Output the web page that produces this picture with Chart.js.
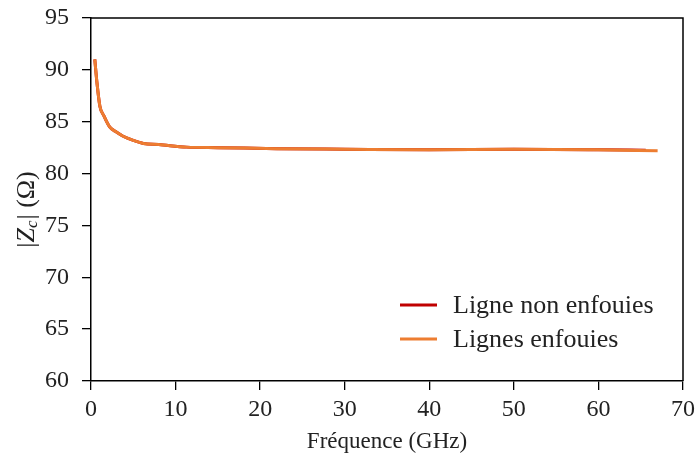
<!DOCTYPE html>
<html>
<head>
<meta charset="utf-8">
<script src="https://cdn.jsdelivr.net/npm/chart.js@4.4.1/dist/chart.umd.min.js"></script>
<style>
    body { margin: 0; background: #fff; }
    canvas { display: block; }
</style>
</head>
<body>
<canvas id="myChart" width="695" height="456"></canvas>
<script>
// fréquences (GHz) et |Zc| (Ohm)
const freqNonEnfouies = [0.45, 0.7, 1.05, 1.5, 2.2, 3, 3.8, 5, 6.2, 8, 11.3, 15, 22, 30, 40, 50, 60, 65.6];
const zcNonEnfouies = [91.0, 88.8, 86.5, 85.6, 84.5, 84.0, 83.6, 83.2, 82.9, 82.8, 82.55, 82.5, 82.4, 82.35, 82.3, 82.35, 82.3, 82.25];
const freqEnfouies = [0.45, 0.7, 1.05, 1.5, 2.2, 3, 3.8, 5, 6.2, 8, 11.3, 15, 22, 30, 40, 50, 60, 67];
const zcEnfouies = [91.0, 88.8, 86.5, 85.6, 84.5, 84.0, 83.6, 83.2, 82.9, 82.8, 82.55, 82.5, 82.4, 82.35, 82.3, 82.35, 82.3, 82.2];
const seriesLabels = ['Ligne non enfouies', 'Lignes enfouies'];
const seriesColors = ['#c00000', '#ed7d31'];
const xTicks = [0, 10, 20, 30, 40, 50, 60, 70];
const yTicks = [60, 65, 70, 75, 80, 85, 90, 95];

const serif = "'Liberation Serif', 'Times New Roman', serif";

function toPoints(xs, ys) {
    return xs.map((x, i) => ({ x: x, y: ys[i] }));
}

const extras = {
    id: 'extras',
    afterDraw(chart) {
        const ctx = chart.ctx;
        const a = chart.chartArea;
        ctx.save();
        // cadre (haut + droite)
        ctx.strokeStyle = '#000';
        ctx.lineWidth = 1.5;
        ctx.beginPath();
        ctx.moveTo(a.left, a.top);
        ctx.lineTo(a.right, a.top);
        ctx.lineTo(a.right, a.bottom);
        ctx.stroke();

        // titre axe Y : |Zc| (Ω)
        ctx.fillStyle = '#222';
        ctx.textBaseline = 'middle';
        ctx.translate(27, 210);
        ctx.rotate(-Math.PI / 2);
        const parts = [
            { t: '|', f: '26px ' + serif, dy: 0 },
            { t: 'Z', f: 'italic 26px ' + serif, dy: 0 },
            { t: 'c', f: 'italic 17px ' + serif, dy: 6 },
            { t: '| (Ω)', f: '26px ' + serif, dy: 0 }
        ];
        let total = 0;
        parts.forEach(p => { ctx.font = p.f; p.w = ctx.measureText(p.t).width; total += p.w; });
        let px = -total / 2;
        parts.forEach(p => {
            ctx.font = p.f;
            ctx.fillText(p.t, px, p.dy);
            px += p.w + (p.t === 'c' ? 1 : 0);
        });
        ctx.restore();

        // légende
        ctx.save();
        ctx.font = '26px ' + serif;
        ctx.textBaseline = 'middle';
        ctx.fillStyle = '#222';
        ctx.lineWidth = 3;
        seriesLabels.forEach((lab, i) => {
            const y = 305 + i * 34;
            ctx.strokeStyle = seriesColors[i];
            ctx.beginPath();
            ctx.moveTo(400, y);
            ctx.lineTo(437, y);
            ctx.stroke();
            ctx.fillText(lab, 453, y + 1);
        });
        ctx.restore();
    }
};

const config = {
    type: 'line',
    data: {
        datasets: [{
            label: seriesLabels[0],
            data: toPoints(freqNonEnfouies, zcNonEnfouies),
            borderColor: seriesColors[0],
            backgroundColor: 'transparent',
            borderWidth: 3,
            pointRadius: 0,
            cubicInterpolationMode: 'monotone',
            order: 2
        }, {
            label: seriesLabels[1],
            data: toPoints(freqEnfouies, zcEnfouies),
            borderColor: seriesColors[1],
            backgroundColor: 'transparent',
            borderWidth: 3,
            pointRadius: 0,
            cubicInterpolationMode: 'monotone',
            order: 1
        }]
    },
    options: {
        responsive: false,
        animation: false,
        layout: { padding: { top: 18, right: 12, left: 0, bottom: 0 } },
        plugins: {
            legend: { display: false },
            tooltip: { enabled: false }
        },
        scales: {
            x: {
                type: 'linear',
                min: 0,
                max: 70,
                afterBuildTicks: (scale) => { scale.ticks = xTicks.map(v => ({ value: v })); },
                afterFit: (scale) => {
                    scale.height = 75;
                    scale.paddingLeft = 0;
                    scale.paddingRight = 0;
                },
                grid: { drawOnChartArea: false, drawTicks: true, tickLength: 9, color: '#000', lineWidth: 1.3 },
                border: { display: true, color: '#000', width: 1.5 },
                ticks: { color: '#222', padding: 5, font: { family: serif, size: 24 } },
                title: {
                    display: true,
                    text: 'Fréquence (GHz)',
                    color: '#222',
                    padding: { top: -4, bottom: 0 },
                    font: { family: serif, size: 23 }
                }
            },
            y: {
                min: 60,
                max: 95,
                afterBuildTicks: (scale) => { scale.ticks = yTicks.map(v => ({ value: v })); },
                afterFit: (scale) => {
                    scale.width = 91;
                    scale.paddingTop = 0;
                    scale.paddingBottom = 0;
                },
                grid: { drawOnChartArea: false, drawTicks: true, tickLength: 9, color: '#000', lineWidth: 1.3 },
                border: { display: true, color: '#000', width: 1.5 },
                ticks: { color: '#222', padding: 13, font: { family: serif, size: 24 } }
            }
        }
    },
    plugins: [extras]
};

const myChart = new Chart(document.getElementById('myChart'), config);
</script>
</body>
</html>
